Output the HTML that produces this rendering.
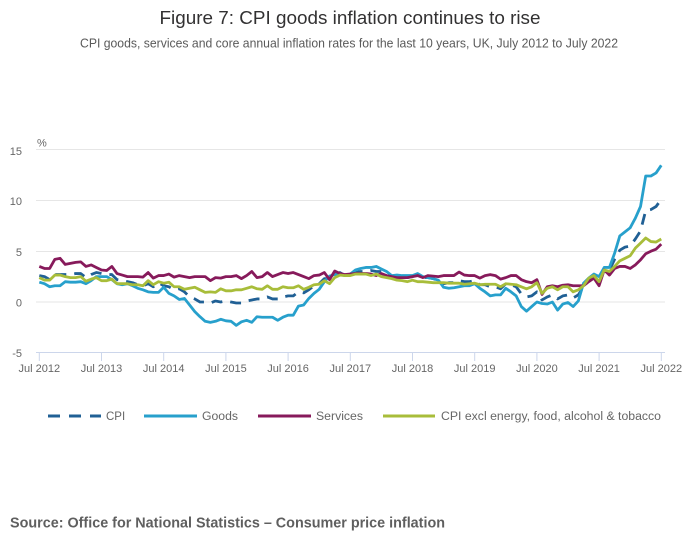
<!DOCTYPE html>
<html><head><meta charset="utf-8"><style>
html,body{margin:0;padding:0;background:#fff;}
svg{display:block;font-family:"Liberation Sans",sans-serif;}
</style></head><body>
<svg width="700" height="549" viewBox="0 0 700 549" xmlns="http://www.w3.org/2000/svg">
<rect width="700" height="549" fill="#fff"/>
<text x="350" y="24" text-anchor="middle" font-size="18.5" fill="#323132" textLength="381" lengthAdjust="spacingAndGlyphs">Figure 7: CPI goods inflation continues to rise</text>
<text x="349" y="47.5" text-anchor="middle" font-size="12.5" fill="#5a5a5a" textLength="538" lengthAdjust="spacingAndGlyphs">CPI goods, services and core annual inflation rates for the last 10 years, UK, July 2012 to July 2022</text>
<g stroke="#e6e6e6" stroke-width="1">
<line x1="36" y1="149.5" x2="665" y2="149.5"/>
<line x1="36" y1="200.5" x2="665" y2="200.5"/>
<line x1="36" y1="251.5" x2="665" y2="251.5"/>
<line x1="36" y1="302" x2="665" y2="302"/>
</g>
<line x1="36" y1="352.5" x2="665" y2="352.5" stroke="#ccd6eb" stroke-width="1"/>
<g stroke="#ccd6eb" stroke-width="1">
<line x1="39.3" y1="352.5" x2="39.3" y2="361"/>
<line x1="101.5" y1="352.5" x2="101.5" y2="361"/>
<line x1="163.7" y1="352.5" x2="163.7" y2="361"/>
<line x1="225.9" y1="352.5" x2="225.9" y2="361"/>
<line x1="288.1" y1="352.5" x2="288.1" y2="361"/>
<line x1="350.3" y1="352.5" x2="350.3" y2="361"/>
<line x1="412.5" y1="352.5" x2="412.5" y2="361"/>
<line x1="474.7" y1="352.5" x2="474.7" y2="361"/>
<line x1="536.9" y1="352.5" x2="536.9" y2="361"/>
<line x1="599.1" y1="352.5" x2="599.1" y2="361"/>
<line x1="661.3" y1="352.5" x2="661.3" y2="361"/>
</g>
<g font-size="11" fill="#666" text-anchor="end">
<text x="22" y="155">15</text>
<text x="22" y="205">10</text>
<text x="22" y="256">5</text>
<text x="22" y="306.5">0</text>
<text x="22" y="357">-5</text>
</g>
<text x="37" y="146.5" font-size="11" fill="#666">%</text>
<g font-size="11" fill="#666" text-anchor="middle">
<text x="39.3" y="372">Jul 2012</text>
<text x="101.5" y="372">Jul 2013</text>
<text x="163.7" y="372">Jul 2014</text>
<text x="225.9" y="372">Jul 2015</text>
<text x="288.1" y="372">Jul 2016</text>
<text x="350.3" y="372">Jul 2017</text>
<text x="412.5" y="372">Jul 2018</text>
<text x="474.7" y="372">Jul 2019</text>
<text x="536.9" y="372">Jul 2020</text>
<text x="599.1" y="372">Jul 2021</text>
<text x="661.3" y="372">Jul 2022</text>
</g>
<g transform="translate(39.3,302) scale(5.183,-10.16)" fill="none" stroke-linejoin="round">
<polyline vector-effect="non-scaling-stroke" stroke="#206095" stroke-width="2.8" stroke-dasharray="11,8" points="0,2.6 1,2.5 2,2.2 3,2.7 4,2.7 5,2.7 6,2.7 7,2.8 8,2.8 9,2.4 10,2.7 11,2.9 12,2.8 13,2.7 14,2.7 15,2.2 16,2.1 17,2.0 18,1.9 19,1.7 20,1.6 21,1.8 22,1.5 23,1.9 24,1.6 25,1.5 26,1.2 27,1.3 28,1.0 29,0.5 30,0.3 31,0 32,0 33,-0.1 34,0.1 35,0 36,0.1 37,0 38,-0.1 39,-0.1 40,0.1 41,0.2 42,0.3 43,0.3 44,0.5 45,0.3 46,0.3 47,0.5 48,0.6 49,0.6 50,1.0 51,0.9 52,1.2 53,1.6 54,1.8 55,2.3 56,2.3 57,2.7 58,2.9 59,2.6 60,2.6 61,2.9 62,3.0 63,3.0 64,3.1 65,3.0 66,3.0 67,2.7 68,2.5 69,2.4 70,2.4 71,2.4 72,2.5 73,2.7 74,2.4 75,2.4 76,2.3 77,2.1 78,1.8 79,1.9 80,1.9 81,2.1 82,2.0 83,2.0 84,2.1 85,1.7 86,1.7 87,1.5 88,1.5 89,1.3 90,1.8 91,1.7 92,1.5 93,0.8 94,0.5 95,0.6 96,1.0 97,0.2 98,0.5 99,0.7 100,0.3 101,0.6 102,0.7 103,0.4 104,0.7 105,1.5 106,2.1 107,2.5 108,2.0 109,3.2 110,3.1 111,4.2 112,5.1 113,5.4 114,5.5 115,6.2 116,7.0 117,9.0 118,9.1 119,9.4 120,10.1"/>
<polyline vector-effect="non-scaling-stroke" stroke="#27a0cc" stroke-width="2.8" points="0,1.95 1,1.8 2,1.5 3,1.6 4,1.6 5,2.0 6,1.95 7,1.95 8,2.0 9,1.8 10,2.1 11,2.5 12,2.5 13,2.5 14,2.2 15,1.8 16,1.7 17,1.8 18,1.6 19,1.35 20,1.2 21,1.0 22,0.95 23,0.95 24,1.45 25,0.85 26,0.6 27,0.25 28,0.35 29,-0.3 30,-0.95 31,-1.45 32,-1.9 33,-2.0 34,-1.9 35,-1.7 36,-1.85 37,-1.9 38,-2.3 39,-1.95 40,-1.8 41,-2.0 42,-1.45 43,-1.5 44,-1.5 45,-1.5 46,-1.8 47,-1.5 48,-1.3 49,-1.3 50,-0.4 51,-0.3 52,0.35 53,0.85 54,1.25 55,2.0 56,2.55 57,2.7 58,2.7 59,2.6 60,2.75 61,3.15 62,3.3 63,3.4 64,3.4 65,3.5 66,3.25 67,3.0 68,2.6 69,2.65 70,2.6 71,2.6 72,2.6 73,2.8 74,2.5 75,2.4 76,2.3 77,2.15 78,1.45 79,1.35 80,1.4 81,1.5 82,1.6 83,1.6 84,1.8 85,1.35 86,1.0 87,0.6 88,0.7 89,0.7 90,1.35 91,1.0 92,0.6 93,-0.45 94,-0.9 95,-0.45 96,0 97,-0.15 98,-0.2 99,0 100,-0.8 101,-0.2 102,-0.05 103,-0.45 104,0.1 105,1.85 106,2.35 107,2.75 108,2.5 109,3.4 110,3.4 111,4.8 112,6.5 113,6.9 114,7.3 115,8.25 116,9.4 117,12.4 118,12.4 119,12.7 120,13.45"/>
<polyline vector-effect="non-scaling-stroke" stroke="#871a5b" stroke-width="2.8" points="0,3.5 1,3.3 2,3.3 3,4.2 4,4.3 5,3.7 6,3.8 7,3.9 8,3.95 9,3.5 10,3.65 11,3.4 12,3.15 13,3.1 14,3.5 15,2.8 16,2.65 17,2.5 18,2.5 19,2.5 20,2.45 21,2.9 22,2.35 23,2.6 24,2.6 25,2.75 26,2.45 27,2.6 28,2.5 29,2.4 30,2.5 31,2.5 32,2.5 33,2.1 34,2.4 35,2.35 36,2.5 37,2.5 38,2.6 39,2.3 40,2.6 41,3.0 42,2.4 43,2.5 44,2.9 45,2.5 46,2.7 47,2.9 48,2.8 49,2.9 50,2.7 51,2.5 52,2.3 53,2.6 54,2.65 55,2.9 56,2.2 57,3.05 58,2.8 59,2.7 60,2.75 61,2.8 62,2.8 63,2.8 64,2.75 65,2.6 66,2.8 67,2.6 68,2.5 69,2.4 70,2.4 71,2.4 72,2.5 73,2.6 74,2.4 75,2.6 76,2.55 77,2.5 78,2.6 79,2.6 80,2.6 81,2.95 82,2.65 83,2.6 84,2.6 85,2.35 86,2.6 87,2.7 88,2.6 89,2.25 90,2.4 91,2.6 92,2.6 93,2.2 94,2.0 95,1.9 96,2.2 97,0.75 98,1.5 99,1.6 100,1.5 101,1.65 102,1.7 103,1.6 104,1.6 105,1.6 106,2.0 107,2.35 108,1.6 109,3.15 110,2.65 111,3.3 112,3.5 113,3.5 114,3.3 115,3.65 116,4.15 117,4.75 118,5.0 119,5.2 120,5.7"/>
<polyline vector-effect="non-scaling-stroke" stroke="#a8bd3a" stroke-width="2.8" points="0,2.4 1,2.15 2,2.15 3,2.65 4,2.65 5,2.5 6,2.4 7,2.4 8,2.5 9,2.05 10,2.25 11,2.4 12,2.1 13,2.1 14,2.25 15,1.8 16,1.8 17,1.8 18,1.7 19,1.7 20,1.6 21,2.1 22,1.7 23,2.0 24,1.85 25,1.95 26,1.5 27,1.5 28,1.25 29,1.35 30,1.45 31,1.2 32,0.95 33,1.0 34,0.95 35,1.3 36,1.1 37,1.1 38,1.2 39,1.2 40,1.35 41,1.5 42,1.3 43,1.25 44,1.6 45,1.25 46,1.25 47,1.5 48,1.4 49,1.4 50,1.6 51,1.25 52,1.45 53,1.7 54,1.75 55,2.1 56,1.8 57,2.4 58,2.65 59,2.6 60,2.6 61,2.75 62,2.75 63,2.75 64,2.6 65,2.75 66,2.5 67,2.4 68,2.3 69,2.15 70,2.1 71,2.0 72,2.15 73,2.0 74,2.0 75,1.95 76,1.9 77,1.9 78,1.9 79,1.85 80,1.85 81,1.85 82,1.75 83,1.8 84,1.85 85,1.7 86,1.75 87,1.75 88,1.75 89,1.5 90,1.8 91,1.75 92,1.7 93,1.5 94,1.3 95,1.5 96,1.9 97,0.85 98,1.35 99,1.5 100,1.2 101,1.5 102,1.5 103,1.0 104,1.2 105,1.6 106,2.35 107,2.6 108,2.0 109,3.15 110,3.0 111,3.5 112,4.05 113,4.3 114,4.55 115,5.3 116,5.8 117,6.3 118,5.95 119,5.9 120,6.2"/>
</g>
<line x1="48" y1="416" x2="101" y2="416" stroke="#206095" stroke-width="3" stroke-dasharray="12,9"/>
<text x="106" y="420" font-size="11.5" fill="#666">CPI</text>
<line x1="144" y1="416" x2="197" y2="416" stroke="#27a0cc" stroke-width="3"/>
<text x="202" y="420" font-size="11.5" fill="#666" textLength="36" lengthAdjust="spacingAndGlyphs">Goods</text>
<line x1="258" y1="416" x2="311" y2="416" stroke="#871a5b" stroke-width="3"/>
<text x="316" y="420" font-size="11.5" fill="#666" textLength="47" lengthAdjust="spacingAndGlyphs">Services</text>
<line x1="383" y1="416" x2="435" y2="416" stroke="#a8bd3a" stroke-width="3"/>
<text x="441" y="420" font-size="11.5" fill="#666" textLength="220" lengthAdjust="spacingAndGlyphs">CPI excl energy, food, alcohol &amp; tobacco</text>
<text x="10" y="527.5" font-size="14.5" font-weight="bold" fill="#5f5f5f" textLength="435" lengthAdjust="spacingAndGlyphs">Source: Office for National Statistics – Consumer price inflation</text>
</svg>
</body></html>
